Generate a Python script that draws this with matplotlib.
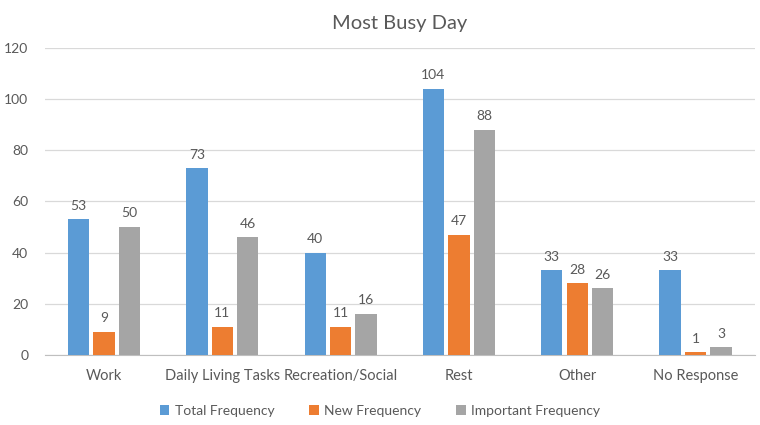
import numpy as np
import matplotlib.pyplot as plt

categories = ["Work", "Daily Living Tasks", "Recreation/Social", "Rest", "Other", "No Response"]
total_freq = [53, 73, 40, 104, 33, 33]
new_freq = [9, 11, 11, 47, 28, 1]
important_freq = [50, 46, 16, 88, 26, 3]

series = [("Total Frequency", total_freq, "#5B9BD5"),
          ("New Frequency", new_freq, "#ED7D31"),
          ("Important Frequency", important_freq, "#A5A5A5")]

plt.rcParams['font.family'] = ['Lato', 'DejaVu Sans']
txt = "#595959"

fig = plt.figure(figsize=(7.6, 4.25), dpi=100)
ax = fig.add_axes([0.059, 0.165, 0.934, 0.722])

x = np.arange(len(categories))
width = 0.18
gap = 0.035
for i, (name, vals, col) in enumerate(series):
    pos = x + (i - 1) * (width + gap)
    bars = ax.bar(pos, vals, width=width, color=col, label=name, zorder=3)
    for b, v in zip(bars, vals):
        ax.text(b.get_x() + b.get_width() / 2, v + 3, str(v), ha='center', va='bottom',
                fontsize=10, color=txt)

ax.set_xlim(-0.5, len(categories) - 0.5)
ax.set_ylim(0, 120)
ax.set_yticks(range(0, 121, 20))
ax.set_xticks(x)
ax.set_xticklabels(categories)
ax.tick_params(axis='both', length=0, labelsize=10, colors=txt)
ax.tick_params(axis='x', labelsize=10.5, pad=10)
ax.tick_params(axis='y', pad=12)
ax.grid(axis='y', color='#D9D9D9', linewidth=0.9, zorder=0)
for s in ['top', 'right', 'left']:
    ax.spines[s].set_visible(False)
ax.spines['bottom'].set_color('#BFBFBF')

ax.set_title("Most Busy Day", fontsize=14.5, color=txt, pad=14)
fig.legend(loc='lower center', bbox_to_anchor=(0.5, -0.01), ncol=3, frameon=False,
           fontsize=10, labelcolor=txt, handlelength=0.7, handleheight=0.7,
           columnspacing=2.5, handletextpad=0.4)

fig.savefig("out.png", dpi=100)
